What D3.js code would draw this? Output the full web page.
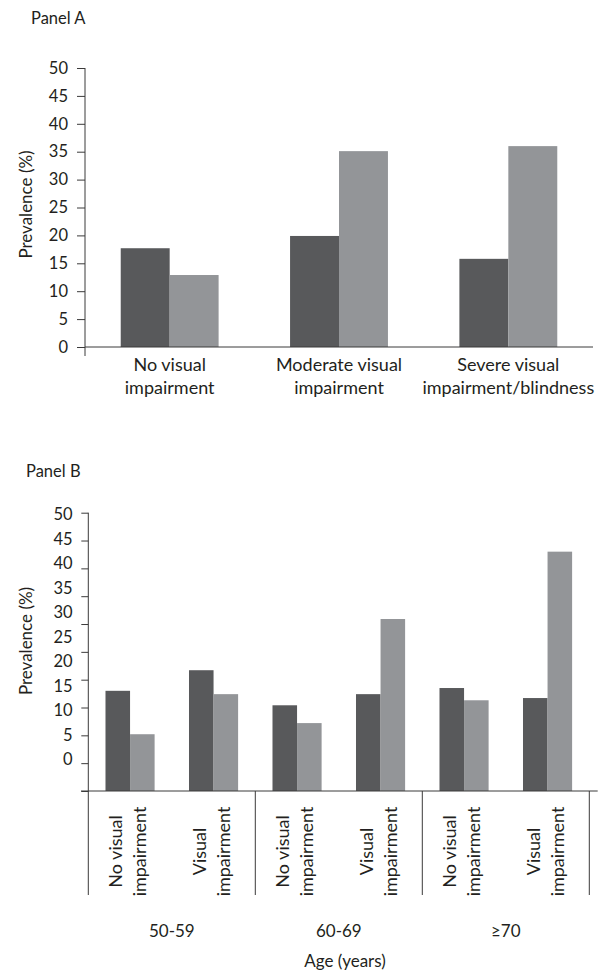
<!DOCTYPE html>
<html>
<head>
<meta charset="utf-8">
<script src="https://cdn.jsdelivr.net/npm/d3@7"></script>
<style>
  body { margin: 0; background: #fff; }
  text { font-family: Lato, "Open Sans", sans-serif; fill: #231f20; }
</style>
</head>
<body>
<div id="chart"></div>
<script>
// Panel A data
const panelACategories = ['No visual impairment', 'Moderate visual impairment', 'Severe visual impairment/blindness'];
const panelALabels = [['No visual', 'impairment'], ['Moderate visual', 'impairment'], ['Severe visual', 'impairment/blindness']];
const panelADark = [17.7, 19.9, 15.8];
const panelALight = [12.9, 35.1, 36.0];

// Panel B data
const ageGroups = ['50-59', '60-69', '≥70'];
const visionGroups = [['No visual', 'impairment'], ['Visual', 'impairment']];
const panelBDark = [18.0, 21.7, 15.4, 17.4, 18.5, 16.7];
const panelBLight = [10.2, 17.4, 12.2, 30.9, 16.3, 43.0];

const yTicks = [0, 5, 10, 15, 20, 25, 30, 35, 40, 45, 50];
const series = ['dark', 'light'];
const colors = { dark: '#58595b', light: '#939598' };
const axisColor = '#3b3a3a';

const svg = d3.select('#chart').append('svg')
  .attr('width', 599)
  .attr('height', 970);

//---------------- Panel A ----------------
const yA = d3.scaleLinear().domain([0, 50]).range([347, 68]);
const xA = d3.scaleBand().domain(panelACategories).range([85, 593]);
const sA = d3.scaleBand().domain(series).range([0, xA.bandwidth()]).paddingOuter(0.73);

svg.append('text')
  .attr('x', 31).attr('y', 23.5)
  .style('font-size', '16.5px')
  .text('Panel A');

const gA = svg.append('g');

panelACategories.forEach((c, i) => {
  const vals = { dark: panelADark[i], light: panelALight[i] };
  series.forEach(s => {
    gA.append('rect')
      .attr('x', xA(c) + sA(s))
      .attr('y', yA(vals[s]))
      .attr('width', sA.bandwidth())
      .attr('height', yA(0) - yA(vals[s]))
      .attr('fill', colors[s]);
  });
});

const axisA = gA.append('g')
  .attr('transform', 'translate(85,0)')
  .call(d3.axisLeft(yA).tickValues(yTicks).tickSize(8).tickPadding(9).tickSizeOuter(0));
axisA.select('.domain').remove();
axisA.selectAll('line').attr('stroke', axisColor);
axisA.selectAll('text').style('font-size', '16.5px').style('fill', '#231f20');

// y axis line with a short run below zero
gA.append('line')
  .attr('x1', 85).attr('x2', 85)
  .attr('y1', yA(50)).attr('y2', yA(0) + 9)
  .attr('stroke', axisColor);
gA.append('line')
  .attr('x1', 85).attr('x2', xA.range()[1])
  .attr('y1', yA(0)).attr('y2', yA(0))
  .attr('stroke', axisColor);

panelALabels.forEach((lines, i) => {
  const cx = xA(panelACategories[i]) + xA.bandwidth() / 2;
  lines.forEach((l, j) => {
    gA.append('text')
      .attr('x', cx)
      .attr('y', 371 + j * 22.6)
      .attr('text-anchor', 'middle')
      .style('font-size', '18px')
      .text(l);
  });
});

gA.append('text')
  .attr('transform', `translate(32,${(yA(0) + yA(50)) / 2 - 3}) rotate(-90)`)
  .attr('text-anchor', 'middle')
  .style('font-size', '17px')
  .text('Prevalence (%)');

//---------------- Panel B ----------------
const yB = d3.scaleLinear().domain([0, 50]).range([791, 512.7]);
// tick labels sit on a squeezed scale in the original figure
const labelB = d3.scaleLinear().domain([0, 50]).range([759.5, 514.5]);
const xB = d3.scaleBand().domain(ageGroups).range([88.3, 589.3]);
const vB = d3.scaleBand().domain(d3.range(visionGroups.length)).range([0, xB.bandwidth()]);
const sB = d3.scaleBand().domain(series).range([0, vB.bandwidth()]).paddingOuter(0.7);

svg.append('text')
  .attr('x', 26).attr('y', 476.5)
  .style('font-size', '16.5px')
  .text('Panel B');

const gB = svg.append('g');

ageGroups.forEach((a, i) => {
  visionGroups.forEach((v, j) => {
    const k = i * visionGroups.length + j;
    const vals = { dark: panelBDark[k], light: panelBLight[k] };
    const x0 = xB(a) + vB(j);
    series.forEach(s => {
      gB.append('rect')
        .attr('x', x0 + sB(s))
        .attr('y', yB(vals[s]))
        .attr('width', sB.bandwidth())
        .attr('height', yB(0) - yB(vals[s]))
        .attr('fill', colors[s]);
    });
    const cx = x0 + vB.bandwidth() / 2;
    v.forEach((l, m) => {
      gB.append('text')
        .attr('transform', `translate(${cx + (m === 0 ? -8 : 16)},851.5) rotate(-90)`)
        .attr('text-anchor', 'middle')
        .style('font-size', '18px')
        .text(l);
    });
  });
  gB.append('text')
    .attr('x', xB(a) + xB.bandwidth() / 2)
    .attr('y', 936.5)
    .attr('text-anchor', 'middle')
    .style('font-size', '17px')
    .text(a);
});

const axisB = gB.append('g')
  .attr('transform', 'translate(88.3,0)')
  .call(d3.axisLeft(yB).tickValues(yTicks).tickSize(7).tickFormat('').tickSizeOuter(0));
axisB.select('.domain').remove();
axisB.selectAll('line').attr('stroke', axisColor);

gB.selectAll('.tick-label')
  .data(yTicks)
  .join('text')
  .attr('class', 'tick-label')
  .attr('x', 72.7)
  .attr('y', d => labelB(d))
  .attr('dy', '0.36em')
  .attr('text-anchor', 'end')
  .style('font-size', '16.5px')
  .text(d => d);

// baseline and group separators
gB.append('line')
  .attr('x1', 81).attr('x2', 597.7)
  .attr('y1', yB(0)).attr('y2', yB(0))
  .attr('stroke', axisColor);
gB.append('line')
  .attr('x1', 88.3).attr('x2', 88.3)
  .attr('y1', yB(50)).attr('y2', yB(0))
  .attr('stroke', axisColor);
const seps = ageGroups.map(a => xB(a)).concat([xB.range()[1]]);
gB.selectAll('.sep')
  .data(seps)
  .join('line')
  .attr('class', 'sep')
  .attr('x1', d => d).attr('x2', d => d)
  .attr('y1', yB(0)).attr('y2', 895)
  .attr('stroke', axisColor);

gB.append('text')
  .attr('transform', `translate(32,641) rotate(-90)`)
  .attr('text-anchor', 'middle')
  .style('font-size', '17px')
  .text('Prevalence (%)');

svg.append('text')
  .attr('x', 345)
  .attr('y', 966.5)
  .attr('text-anchor', 'middle')
  .style('font-size', '17px')
  .text('Age (years)');
</script>
</body>
</html>
